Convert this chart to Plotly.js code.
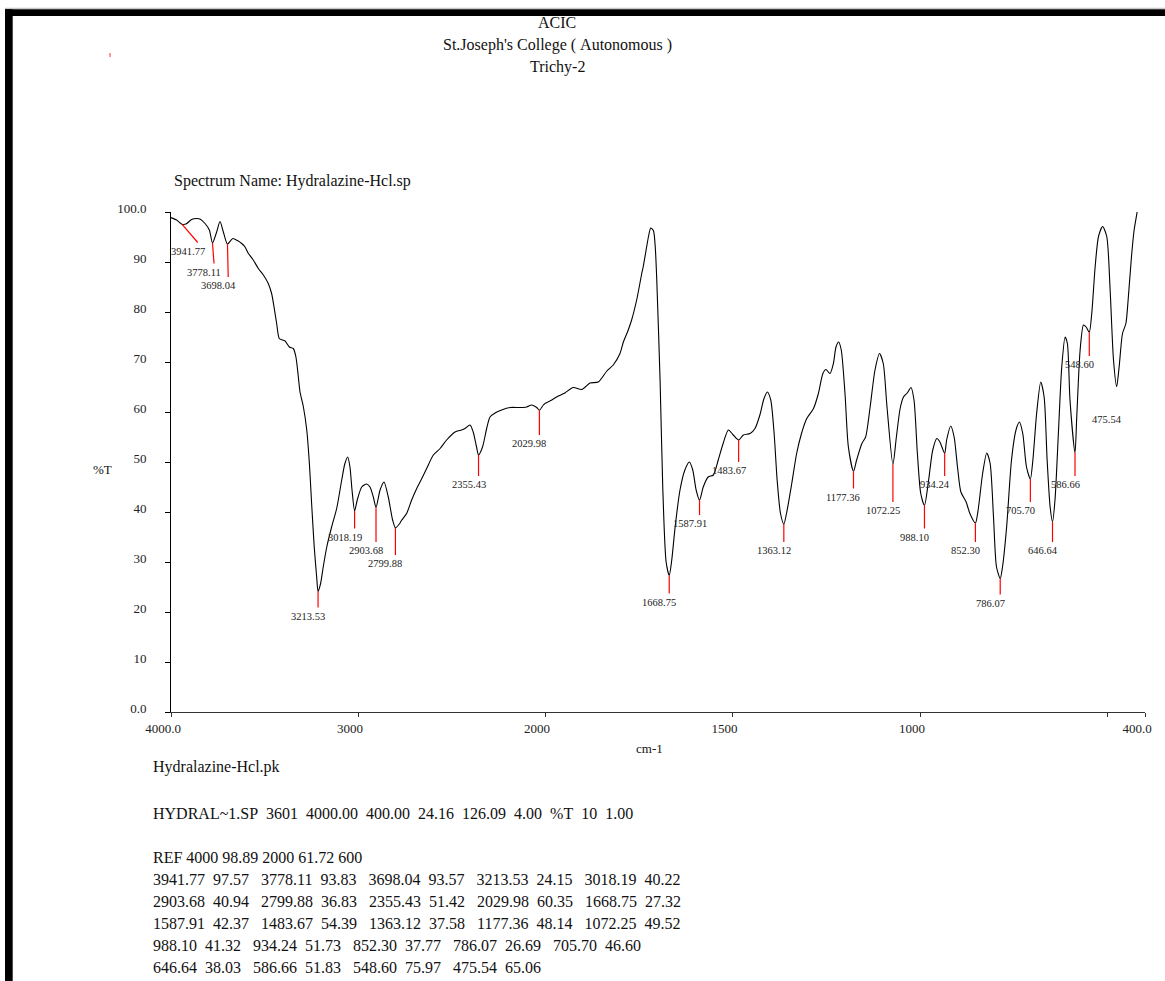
<!DOCTYPE html>
<html><head><meta charset="utf-8">
<script src="https://cdn.plot.ly/plotly-3.0.1.min.js"></script>
<style>html,body{margin:0;padding:0;background:#fff}#chart{width:1165px;height:981px}</style>
</head><body><div id="chart"></div>
<script>
// ---------- data ----------
const wavenumber = [
4000,3970,3941.77,3920,3890,3862,3845,3818,3795,3778.11,3756,3738,3720,3698.04,3670,3645,3622,3604,3586,3560,
3533,3506,3480,3462,3449,3435,3421,3403,3390,3367,3346,3332,3319,3310,3292,3274,3260,3248,3234,3221,
3213.53,3200,3186,3167,3141,3114,3087,3070,3055,3043,3032,3018.19,3004,2980,2954,2936,2918,2903.68,2882,2861,
2838,2815,2799.88,2775,2766,2740,2713,2686,2659,2633,2597,2561,2526,2481,2446,2428,2401,2384,2366,2355.43,
2334,2312,2294,2267,2232,2187,2134,2098,2071,2044,2029.98,2009,2000,
1982,1969,1947,1925,1902,1880,1858,1835,1818,1800,1791,1778,1769,1755,1742,1738,1729,1724,1718,1711,
1706,1702,1693,1686,1677,1668.75,1662,1653,1640,1627,1615,1606,1597,1587.91,1578,1565,1551,1538,1525,1511,
1498,1483.67,1471,1453,1440,1427,1416,1407,1398,1389,1381,1372,1363.12,1356,1342,1329,1316,1302,1284,1271,
1259,1251,1240,1231,1224,1217,1210,1200,1191,1177.36,1169,1155,1145,1133,1120,1108,1098,1088,1072.25,1063,
1053,1044,1034,1024,1016,1007,998,988.10,977,966,955,947,934.24,929,918,909,900,891,877,867,
852.30,845,833,822,813,804,796,786.07,780,769,756,744,735,726,716,705.70,699,689,678,669,
661,653,646.64,640,631,622,613,607,600,586.66,582,573,564,557,548.60,542,533,524,513,502,
493,484,475.54,469,460,451,445,436,429,421,410,400];
const transmittance = [
98.89,98.4,97.57,97.6,98.5,98.7,98.6,97.7,96.4,93.83,96.0,98.1,96.0,93.57,94.7,94.3,93.7,93.0,91.7,90.4,
88.7,87.4,85.7,83.7,81.0,77.7,74.7,74.4,74.2,73.0,72.7,71.0,67.0,64.0,61.0,56.4,49.7,41.7,33.0,27.0,
24.15,25.7,29.0,33.0,37.0,40.7,46.4,49.7,51.0,49.0,44.4,40.22,42.4,45.0,45.6,45.0,43.0,40.94,44.4,46.0,
43.0,38.4,36.83,37.8,38.4,39.7,42.4,44.7,46.7,48.7,51.4,52.7,54.4,56.0,56.4,56.7,57.4,56.0,53.0,51.42,
53.0,56.7,59.0,59.8,60.4,60.9,60.9,61.0,61.4,60.9,60.35,61.4,61.72,
62.4,63.0,63.8,64.9,64.5,65.8,66.0,68.2,69.4,71.7,74.0,76.4,78.4,82.6,87.7,89.1,93.0,95.1,96.8,96.3,
93.0,86.5,66.0,45.0,30.0,27.32,30.4,37.0,44.4,48.4,50.0,48.4,44.4,42.37,45.0,47.0,47.4,50.4,53.7,56.4,
55.4,54.39,55.4,55.7,56.7,59.4,62.7,64.0,62.4,55.7,46.4,39.7,37.58,39.7,45.7,51.7,55.7,58.7,60.7,63.7,
67.7,68.5,67.7,69.7,73.0,74.0,72.4,63.7,53.0,48.14,50.4,53.7,55.0,61.0,68.4,71.7,69.7,61.0,49.52,55.0,
60.7,63.0,63.8,64.9,62.4,51.7,43.7,41.32,46.4,52.4,54.7,54.0,51.73,54.4,57.2,55.0,49.0,44.0,42.0,39.7,
37.77,40.4,47.7,51.8,49.7,39.0,29.0,26.69,29.0,37.0,50.4,56.4,58.0,55.7,49.0,46.60,50.4,59.7,66.0,63.0,
50.4,41.0,38.03,42.4,55.7,69.0,75.0,73.7,62.4,51.83,59.0,72.4,77.4,77.0,75.97,79.7,89.0,95.1,97.1,95.1,
84.4,70.4,65.06,69.0,75.7,77.7,82.4,91.1,96.4,100.0,106,112];

const peakWn = [3941.77,3778.11,3698.04,3213.53,3018.19,2903.68,2799.88,2355.43,2029.98,1668.75,1587.91,1483.67,
1363.12,1177.36,1072.25,988.10,934.24,852.30,786.07,705.70,646.64,586.66,548.60,475.54];
const peakT = [97.57,93.83,93.57,24.15,40.22,40.94,36.83,51.42,60.35,27.32,42.37,54.39,
37.58,48.14,49.52,41.32,51.73,37.77,26.69,46.60,38.03,51.83,75.97,65.06];
// where each red marker line ends (label hangs below it)
const peakLineEndWn = [3857,3770,3694,3213.53,3018.19,2903.68,2799.88,2355.43,2029.98,1668.75,1587.91,1483.67,
1363.12,1177.36,1072.25,988.10,934.24,852.30,786.07,705.70,646.64,586.66,548.60,475.54];
const peakLineEndT = [93.9,89.7,87.0,20.9,36.7,34.0,31.4,47.2,55.4,23.7,39.4,50.0,
34.0,44.7,42.0,36.7,47.2,34.0,23.5,42.0,34.0,47.2,71.2,60.3];
const peakHasLine = [1,1,1,1,1,1,1,1,1,1,1,1,1,1,1,1,1,1,1,1,1,1,1,0];

const xTickValsHigh = [4000,3000,2000];
const xTickTextHigh = ['4000.0','3000','2000'];
const xTickValsLow = [1500,1000,500,400];
const xTickTextLow = ['1500','1000','','400.0'];
const yTickVals = [0,10,20,30,40,50,60,70,80,90,100];
const yTickText = ['0.0','10','20','30','40','50','60','70','80','90','100.0'];

const headerLines = ['ACIC', "St.Joseph's College ( Autonomous )", 'Trichy-2'];
const spectrumName = 'Spectrum Name: Hydralazine-Hcl.sp';
const peakFileName = 'Hydralazine-Hcl.pk';
const fileInfo = 'HYDRAL~1.SP  3601  4000.00  400.00  24.16  126.09  4.00  %T  10  1.00';
const refLine = 'REF 4000 98.89 2000 61.72 600';
const yTitle = '%T';
const xTitle = 'cm-1';

// ---------- build ----------
const FONT = '"Liberation Serif","Times New Roman",Times,serif';
const W = 1165, H = 981, ML = 171, MR = 20, MT = 212, MB = 269;
const PW = W - ML - MR, PH = H - MT - MB;
const SPLIT = (545 - ML) / PW;
const px = x => (x - ML) / PW;
const py = y => (H - MB - y) / PH;
const nb = s => s.replace(/ /g, '\u00a0');

const hiX = [], hiY = [], loX = [], loY = [];
wavenumber.forEach((w, i) => {
  if (w >= 2000) { hiX.push(w); hiY.push(transmittance[i]); }
  if (w <= 2000) { loX.push(w); loY.push(transmittance[i]); }
});

const lineStyle = {color: '#000', width: 1.1, shape: 'spline', smoothing: 0.7};
const traces = [
  {x: hiX, y: hiY, xaxis: 'x', yaxis: 'y', mode: 'lines', line: lineStyle, hoverinfo: 'skip'},
  {x: loX, y: loY, xaxis: 'x2', yaxis: 'y', mode: 'lines', line: lineStyle, hoverinfo: 'skip'}
];

const shapes = [];
const annotations = [];
peakWn.forEach((w, i) => {
  const xr = w >= 2000 ? 'x' : 'x2';
  if (peakHasLine[i]) {
    shapes.push({type: 'line', xref: xr, yref: 'y', x0: w, y0: peakT[i], x1: peakLineEndWn[i], y1: peakLineEndT[i],
      line: {color: '#ff0000', width: 1.2}});
  }
  annotations.push({xref: xr, yref: 'y', x: peakLineEndWn[i], y: peakLineEndT[i], text: w.toFixed(2),
    showarrow: false, xanchor: 'center', yanchor: 'top', xshift: -10, yshift: -1,
    font: {family: FONT, size: 10.5, color: '#222'}});
});

// page decorations: black frame bars and the small red mark
shapes.push({type: 'rect', xref: 'paper', yref: 'paper', x0: px(5), x1: px(W + 5), y0: py(16), y1: py(9.3),
  fillcolor: '#000', line: {width: 0}, layer: 'above'});
shapes.push({type: 'rect', xref: 'paper', yref: 'paper', x0: px(5), x1: px(12.7), y0: py(H + 5), y1: py(9.3),
  fillcolor: '#000', line: {width: 0}, layer: 'above'});
shapes.push({type: 'line', xref: 'paper', yref: 'paper', x0: px(5), x1: px(W + 5), y0: py(8.3), y1: py(8.3),
  line: {color: '#bbb', width: 1}});
shapes.push({type: 'line', xref: 'paper', yref: 'paper', x0: px(110), x1: px(110), y0: py(53), y1: py(57),
  line: {color: '#ff3030', width: 1}});

function txt(text, x, y, size, xanchor) {
  annotations.push({xref: 'paper', yref: 'paper', x: px(x), y: py(y), text: nb(text), showarrow: false,
    xanchor: xanchor || 'left', yanchor: 'middle', font: {family: FONT, size: size, color: '#111'}});
}
const headerY = [22.8, 44.8, 67.3];
headerLines.forEach((t, i) => txt(t, 557, headerY[i], 16, 'center'));
txt(spectrumName, 172, 180.5, 16, 'left');
txt(yTitle, 102, 469, 13, 'center');
txt(xTitle, 649.5, 748, 13, 'center');
txt(peakFileName, 151, 767, 16, 'left');
txt(fileInfo, 151, 813.6, 16, 'left');
txt(refLine, 151, 857.6, 16, 'left');
const rowY = [879.4, 901.6, 923.4, 945.6, 967.8];
for (let r = 0; r < 5; r++) {
  const parts = [];
  for (let k = r * 5; k < Math.min(r * 5 + 5, peakWn.length); k++) {
    parts.push(peakWn[k].toFixed(2) + '  ' + peakT[k].toFixed(2));
  }
  txt(parts.join('   '), 151, rowY[r], 16, 'left');
}

const tickFont = {family: FONT, size: 13, color: '#222'};
const layout = {
  width: W, height: H, margin: {l: ML, r: MR, t: MT, b: MB, pad: 0},
  paper_bgcolor: '#fff', plot_bgcolor: '#fff', showlegend: false,
  xaxis: {domain: [0, SPLIT], range: [4000, 2000], showgrid: false, zeroline: false, showline: true,
    linecolor: '#333', linewidth: 1, ticks: 'outside', ticklen: 4, tickcolor: '#333',
    tickmode: 'array', tickvals: xTickValsHigh, ticktext: xTickTextHigh, tickfont: tickFont,
    anchor: 'y', ticklabelshift: 8, fixedrange: true},
  xaxis2: {domain: [SPLIT, 1], range: [2000, 400], showgrid: false, zeroline: false, showline: true,
    linecolor: '#333', linewidth: 1, ticks: 'outside', ticklen: 4, tickcolor: '#333',
    tickmode: 'array', tickvals: xTickValsLow, ticktext: xTickTextLow, tickfont: tickFont,
    anchor: 'y', ticklabelshift: 8, fixedrange: true},
  yaxis: {range: [0, 100], showgrid: false, zeroline: false, showline: true, linecolor: '#000', linewidth: 1,
    ticks: 'outside', ticklen: 5, tickcolor: '#000', tickmode: 'array', tickvals: yTickVals, ticktext: yTickText,
    tickfont: tickFont, anchor: 'x', ticklabelstandoff: 16, ticklabelshift: -4, fixedrange: true},
  shapes: shapes, annotations: annotations
};
Plotly.newPlot('chart', traces, layout, {displayModeBar: false, staticPlot: true});
</script></body></html>
